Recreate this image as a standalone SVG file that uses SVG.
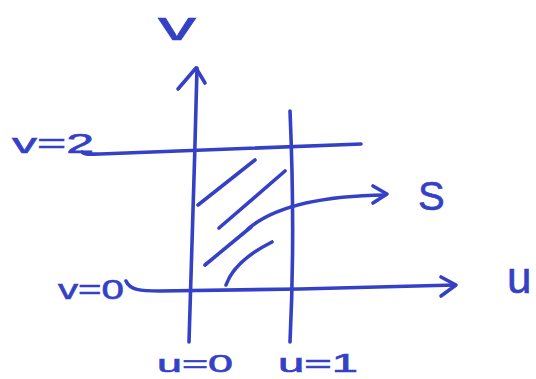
<svg xmlns="http://www.w3.org/2000/svg" width="536" height="379" viewBox="0 0 536 379">
<style>
.ink{fill:none;stroke:#3441c6;stroke-width:3.6;stroke-linecap:round;stroke-linejoin:round}
.lbl{fill:#3441c6;stroke:#3441c6;stroke-width:0.6;font-family:"Liberation Sans","DejaVu Sans",sans-serif}
</style>
<rect width="536" height="379" fill="#ffffff"/>
<g id="axes">
<path class="ink" d="M189,342 C191,260 195,160 197,68"/>
<path class="ink" d="M178,89 L196,68 L205,83"/>
<path class="ink" d="M126,281 C130,290 140,291 160,291 L300,289 L455,285"/>
<path class="ink" d="M441,277 L456,285 L441,296"/>
</g>
<g id="lines">
<path class="ink" d="M82,152 C84,155 90,154 100,154 L361,144"/>
<path class="ink" d="M290,111 C293,180 294,260 290,342"/>
</g>
<g id="hatch">
<path class="ink" d="M198,205 L255,160"/>
<path class="ink" d="M219,228 L285,171"/>
<path class="ink" d="M205,265 L251,227"/>
<path class="ink" d="M226,285 C232,268 248,254 272,242"/>
</g>
<g id="connectors">
<path class="ink" d="M248,229 C270,210 310,196 385,195"/>
<path class="ink" d="M373,186 L387,194 L373,203"/>
</g>
<g id="labels">
<text class="lbl" x="158" y="40" font-size="40" textLength="38" lengthAdjust="spacingAndGlyphs">v</text>
<text class="lbl" x="12" y="153" font-size="28" textLength="82" lengthAdjust="spacingAndGlyphs">v=2</text>
<text class="lbl" x="58" y="299" font-size="28" textLength="66" lengthAdjust="spacingAndGlyphs">v=0</text>
<text class="lbl" x="157" y="372" font-size="24" textLength="76" lengthAdjust="spacingAndGlyphs">u=0</text>
<text class="lbl" x="278" y="372" font-size="25" textLength="80" lengthAdjust="spacingAndGlyphs">u=1</text>
<text class="lbl" x="418" y="210" font-size="40">S</text>
<text class="lbl" x="507" y="293" font-size="44">u</text>
</g>
</svg>
